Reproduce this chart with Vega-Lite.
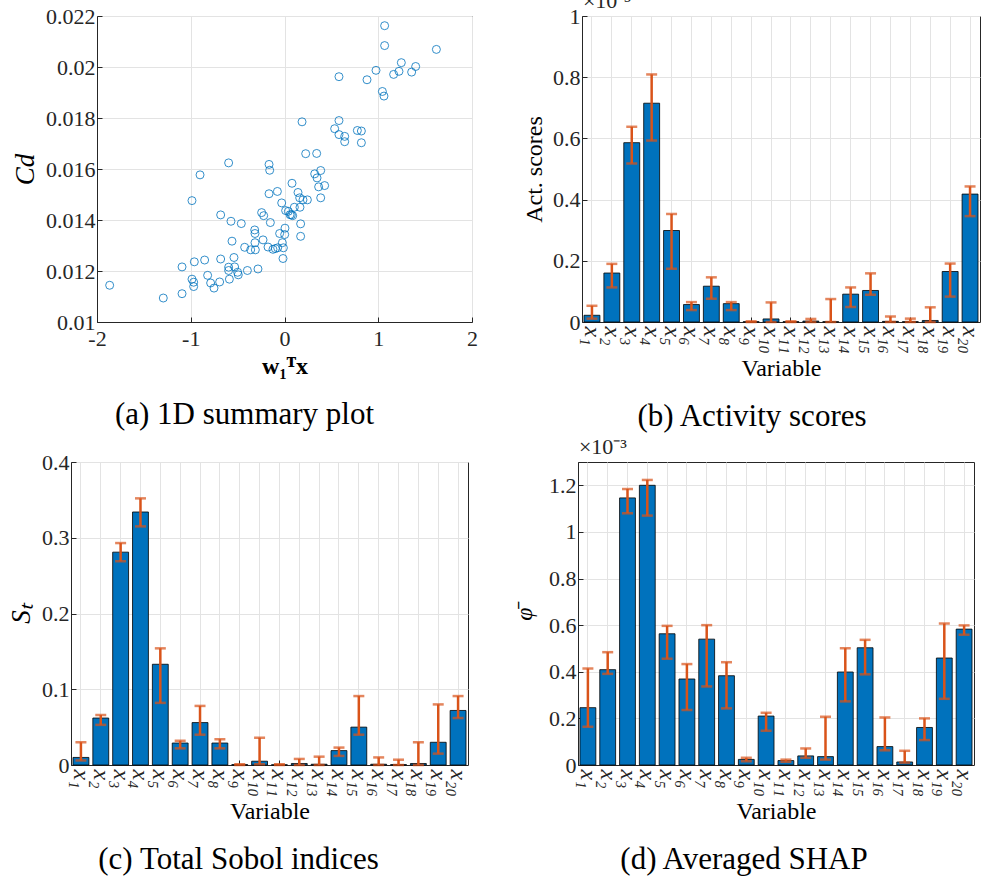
{
"$schema":"https://vega.github.io/schema/vega-lite/v6.json",
"background":"white",
"padding":{"left":7,"top":-11,"right":0,"bottom":0},
"config":{
 "font":"Liberation Serif",
 "view":{"stroke":"#262626","strokeWidth":1},
 "axis":{"labelFont":"Liberation Serif","labelFontSize":22,"labelColor":"#262626","titleFont":"Liberation Serif","titleFontSize":24,"titleFontWeight":"normal","titleColor":"#000000","gridColor":"#e3e3e3","gridWidth":1,"domainColor":"#262626","tickColor":"#262626","tickSize":-5,"labelPadding":7,"titlePadding":6,"labelFlush":false,"labelOverlap":false},
 "axisX":{"labelPadding":9,"titlePadding":3},
 "title":{"font":"Liberation Serif","fontSize":31,"fontWeight":"normal","color":"#000000","orient":"bottom","anchor":"middle","frame":"bounds","offset":22}
},
"datasets":{
 "scatter":[
  {"u":-1.865,"cd":0.01144},{"u":-1.293,"cd":0.01094},{"u":-1.093,"cd":0.01216},{"u":-1.093,"cd":0.01111},{"u":-0.987,"cd":0.01476},{"u":-0.901,"cd":0.01577},{"u":-0.987,"cd":0.01168},{"u":-0.969,"cd":0.01156},{"u":-0.969,"cd":0.01139},{"u":-0.962,"cd":0.01236},
  {"u":-0.852,"cd":0.01243},{"u":-0.820,"cd":0.01183},{"u":-0.788,"cd":0.01153},{"u":-0.752,"cd":0.01133},{"u":-0.692,"cd":0.01157},{"u":-0.681,"cd":0.01420},{"u":-0.681,"cd":0.01247},{"u":-0.596,"cd":0.01624},{"u":-0.596,"cd":0.01215},{"u":-0.596,"cd":0.01202},
  {"u":-0.588,"cd":0.01168},{"u":-0.571,"cd":0.01395},{"u":-0.560,"cd":0.01317},{"u":-0.539,"cd":0.01253},{"u":-0.532,"cd":0.01216},{"u":-0.500,"cd":0.01195},{"u":-0.493,"cd":0.01185},{"u":-0.461,"cd":0.01386},{"u":-0.425,"cd":0.01293},{"u":-0.396,"cd":0.01202},
  {"u":-0.361,"cd":0.01283},{"u":-0.318,"cd":0.01361},{"u":-0.315,"cd":0.01347},{"u":-0.315,"cd":0.01311},{"u":-0.311,"cd":0.01283},{"u":-0.283,"cd":0.01208},{"u":-0.244,"cd":0.01429},{"u":-0.222,"cd":0.01417},{"u":-0.229,"cd":0.01322},{"u":-0.176,"cd":0.01294},
  {"u":-0.165,"cd":0.01618},{"u":-0.158,"cd":0.01595},{"u":-0.165,"cd":0.01503},{"u":-0.151,"cd":0.01390},{"u":-0.123,"cd":0.01285},{"u":-0.098,"cd":0.01288},{"u":-0.076,"cd":0.01512},{"u":-0.073,"cd":0.01291},{"u":-0.052,"cd":0.01347},{"u":-0.030,"cd":0.01467},
  {"u":-0.023,"cd":0.01311},{"u":-0.012,"cd":0.01291},{"u":-0.016,"cd":0.01249},{"u":0.005,"cd":0.01368},{"u":0.002,"cd":0.01343},{"u":0.012,"cd":0.01437},{"u":0.041,"cd":0.01434},{"u":0.059,"cd":0.01421},{"u":0.073,"cd":0.01420},{"u":0.087,"cd":0.01417},
  {"u":0.080,"cd":0.01544},{"u":0.105,"cd":0.01450},{"u":0.144,"cd":0.01508},{"u":0.162,"cd":0.01487},{"u":0.172,"cd":0.01385},{"u":0.172,"cd":0.01336},{"u":0.165,"cd":0.01450},{"u":0.187,"cd":0.01785},{"u":0.197,"cd":0.01479},{"u":0.226,"cd":0.01660},
  {"u":0.244,"cd":0.01479},{"u":0.322,"cd":0.01581},{"u":0.343,"cd":0.01661},{"u":0.347,"cd":0.01565},{"u":0.364,"cd":0.01530},{"u":0.386,"cd":0.01594},{"u":0.386,"cd":0.01487},{"u":0.428,"cd":0.01535},{"u":0.535,"cd":0.01758},{"u":0.581,"cd":0.01962},
  {"u":0.581,"cd":0.01790},{"u":0.581,"cd":0.01735},{"u":0.642,"cd":0.01728},{"u":0.642,"cd":0.01707},{"u":0.777,"cd":0.01751},{"u":0.820,"cd":0.01749},{"u":0.820,"cd":0.01703},{"u":0.880,"cd":0.01950},{"u":0.976,"cd":0.01987},{"u":1.044,"cd":0.01904},
  {"u":1.061,"cd":0.01886},{"u":1.068,"cd":0.02162},{"u":1.068,"cd":0.02084},{"u":1.164,"cd":0.01971},{"u":1.221,"cd":0.01983},{"u":1.246,"cd":0.02017},{"u":1.356,"cd":0.01980},{"u":1.399,"cd":0.02002},{"u":1.620,"cd":0.02069}
 ],
 "act":[
  {"v":"x₁","m":0.022,"lo":0.011,"hi":0.053},{"v":"x₂","m":0.160,"lo":0.113,"hi":0.190},{"v":"x₃","m":0.586,"lo":0.518,"hi":0.638},{"v":"x₄","m":0.715,"lo":0.593,"hi":0.809},{"v":"x₅","m":0.299,"lo":0.174,"hi":0.353},
  {"v":"x₆","m":0.057,"lo":0.039,"hi":0.065},{"v":"x₇","m":0.117,"lo":0.076,"hi":0.146},{"v":"x₈","m":0.060,"lo":0.039,"hi":0.065},{"v":"x₉","m":0.001,"lo":0.0,"hi":0.002},{"v":"x₁₀","m":0.010,"lo":0.0,"hi":0.064},
  {"v":"x₁₁","m":0.001,"lo":0.0,"hi":0.002},{"v":"x₁₂","m":0.003,"lo":0.0,"hi":0.010},{"v":"x₁₃","m":0.001,"lo":0.0,"hi":0.075},{"v":"x₁₄","m":0.091,"lo":0.049,"hi":0.113},{"v":"x₁₅","m":0.103,"lo":0.089,"hi":0.159},
  {"v":"x₁₆","m":0.002,"lo":0.0,"hi":0.018},{"v":"x₁₇","m":0.001,"lo":0.0,"hi":0.011},{"v":"x₁₈","m":0.005,"lo":0.0,"hi":0.048},{"v":"x₁₉","m":0.165,"lo":0.083,"hi":0.191},{"v":"x₂₀","m":0.418,"lo":0.346,"hi":0.443}
 ],
 "sobol":[
  {"v":"x₁","m":0.010,"lo":0.006,"hi":0.030},{"v":"x₂","m":0.062,"lo":0.053,"hi":0.066},{"v":"x₃","m":0.281,"lo":0.269,"hi":0.293},{"v":"x₄","m":0.334,"lo":0.315,"hi":0.352},{"v":"x₅","m":0.133,"lo":0.082,"hi":0.154},
  {"v":"x₆","m":0.029,"lo":0.022,"hi":0.032},{"v":"x₇","m":0.056,"lo":0.040,"hi":0.078},{"v":"x₈","m":0.029,"lo":0.022,"hi":0.034},{"v":"x₉","m":0.0005,"lo":0.0,"hi":0.001},{"v":"x₁₀","m":0.005,"lo":0.001,"hi":0.036},
  {"v":"x₁₁","m":0.0003,"lo":0.0,"hi":0.001},{"v":"x₁₂","m":0.002,"lo":0.0,"hi":0.008},{"v":"x₁₃","m":0.001,"lo":0.0,"hi":0.011},{"v":"x₁₄","m":0.019,"lo":0.012,"hi":0.023},{"v":"x₁₅","m":0.050,"lo":0.040,"hi":0.091},
  {"v":"x₁₆","m":0.001,"lo":0.0,"hi":0.010},{"v":"x₁₇","m":0.0005,"lo":0.0,"hi":0.007},{"v":"x₁₈","m":0.002,"lo":0.0,"hi":0.030},{"v":"x₁₉","m":0.030,"lo":0.015,"hi":0.080},{"v":"x₂₀","m":0.072,"lo":0.062,"hi":0.091}
 ],
 "shap":[
  {"v":"x₁","m":0.246,"lo":0.164,"hi":0.414},{"v":"x₂","m":0.409,"lo":0.391,"hi":0.484},{"v":"x₃","m":1.146,"lo":1.080,"hi":1.184},{"v":"x₄","m":1.200,"lo":1.070,"hi":1.223},{"v":"x₅","m":0.563,"lo":0.456,"hi":0.597},
  {"v":"x₆","m":0.369,"lo":0.236,"hi":0.433},{"v":"x₇","m":0.540,"lo":0.337,"hi":0.600},{"v":"x₈","m":0.383,"lo":0.243,"hi":0.441},{"v":"x₉","m":0.024,"lo":0.016,"hi":0.031},{"v":"x₁₀","m":0.210,"lo":0.147,"hi":0.224},
  {"v":"x₁₁","m":0.019,"lo":0.014,"hi":0.023},{"v":"x₁₂","m":0.039,"lo":0.031,"hi":0.071},{"v":"x₁₃","m":0.036,"lo":0.023,"hi":0.207},{"v":"x₁₄","m":0.399,"lo":0.273,"hi":0.501},{"v":"x₁₅","m":0.503,"lo":0.389,"hi":0.537},
  {"v":"x₁₆","m":0.079,"lo":0.063,"hi":0.204},{"v":"x₁₇","m":0.013,"lo":0.010,"hi":0.061},{"v":"x₁₈","m":0.161,"lo":0.107,"hi":0.200},{"v":"x₁₉","m":0.459,"lo":0.284,"hi":0.607},{"v":"x₂₀","m":0.583,"lo":0.559,"hi":0.599}
 ],
 "expo":[{"t":"×10⁻³"}],
 "none":[]
},
"spacing":2,
"vconcat":[
 {"hconcat":[
  {"bounds":"flush","spacing":25,"hconcat":[
    {"width":1,"height":1,"view":{"stroke":null},"data":{"name":"none"},"mark":{"type":"point","opacity":0},"encoding":{}},
    {"width":375,"height":306,
     "title":{"text":"(a) 1D summary plot"},
     "data":{"name":"scatter"},
     "mark":{"type":"point","shape":"circle","filled":false,"stroke":"#0072BD","strokeWidth":0.8,"size":64,"opacity":1},
     "encoding":{
      "x":{"field":"u","type":"quantitative","title":"w₁ᵀx","scale":{"domain":[-2,2],"nice":false,"zero":false},"axis":{"values":[-2,-1,0,1,2],"labelExpr":"'' + datum.value","labelPadding":11,"titleFontWeight":"bold","titlePadding":5,"grid":true}},
      "y":{"field":"cd","type":"quantitative","title":"Cd","scale":{"domain":[0.01,0.022],"nice":false,"zero":false},"axis":{"values":[0.01,0.012,0.014,0.016,0.018,0.02,0.022],"format":"~g","titleFontStyle":"italic","titleFontSize":27,"grid":true}}
     }
    }
  ]},
  {"width":398,"height":306,
   "title":{"text":"(b) Activity scores"},
   "layer":[
    {"data":{"name":"act"},
     "mark":{"type":"bar","color":"#0072BD","stroke":"#000000","strokeWidth":0.8},
     "encoding":{
      "x":{"field":"v","type":"nominal","sort":null,"scale":{"paddingInner":0.2,"paddingOuter":0.1},"axis":{"labelAngle":90,"labelFontStyle":"italic","labelFontSize":24,"title":"Variable","grid":true}},
      "y":{"field":"m","type":"quantitative","title":"Act. scores","scale":{"domain":[0,1],"nice":false},"axis":{"values":[0,0.2,0.4,0.6,0.8,1],"format":"~g","grid":true}}
     }},
    {"data":{"name":"act"},
     "mark":{"type":"errorbar","color":"#D95319","thickness":2.5,"ticks":{"size":11,"thickness":2.5}},
     "encoding":{
      "x":{"field":"v","type":"nominal","sort":null,"title":"Variable"},
      "y":{"field":"lo","type":"quantitative","title":"Act. scores"},
      "y2":{"field":"hi"}
     }},
    {"data":{"name":"expo"},
     "mark":{"type":"text","font":"Liberation Serif","fontSize":22,"align":"left","baseline":"bottom","dx":-9,"dy":-3,"color":"#262626"},
     "encoding":{"x":{"datum":"x₁"},"y":{"datum":1},"text":{"field":"t"}}}
   ]
  }
 ],"spacing":44},
 {"hconcat":[
  {"width":397,"height":303,
   "title":{"text":"(c) Total Sobol indices"},
   "layer":[
    {"data":{"name":"sobol"},
     "mark":{"type":"bar","color":"#0072BD","stroke":"#000000","strokeWidth":0.8},
     "encoding":{
      "x":{"field":"v","type":"nominal","sort":null,"scale":{"paddingInner":0.2,"paddingOuter":0.1},"axis":{"labelAngle":90,"labelFontStyle":"italic","labelFontSize":24,"title":"Variable","grid":true}},
      "y":{"field":"m","type":"quantitative","title":"Sₜ","scale":{"domain":[0,0.4],"nice":false},"axis":{"values":[0,0.1,0.2,0.3,0.4],"format":"~g","titleFontStyle":"italic","titleFontSize":27,"grid":true}}
     }},
    {"data":{"name":"sobol"},
     "mark":{"type":"errorbar","color":"#D95319","thickness":2.5,"ticks":{"size":11,"thickness":2.5}},
     "encoding":{
      "x":{"field":"v","type":"nominal","sort":null,"title":"Variable"},
      "y":{"field":"lo","type":"quantitative","title":"Sₜ"},
      "y2":{"field":"hi"}
     }}
   ]
  },
  {"width":396,"height":303,
   "title":{"text":"(d) Averaged SHAP"},
   "layer":[
    {"data":{"name":"shap"},
     "mark":{"type":"bar","color":"#0072BD","stroke":"#000000","strokeWidth":0.8},
     "encoding":{
      "x":{"field":"v","type":"nominal","sort":null,"scale":{"paddingInner":0.2,"paddingOuter":0.1},"axis":{"labelAngle":90,"labelFontStyle":"italic","labelFontSize":24,"title":"Variable","grid":true}},
      "y":{"field":"m","type":"quantitative","title":"φ̄","scale":{"domain":[0,1.3],"nice":false},"axis":{"values":[0,0.2,0.4,0.6,0.8,1,1.2],"format":"~g","titleFontStyle":"italic","titlePadding":12,"grid":true}}
     }},
    {"data":{"name":"shap"},
     "mark":{"type":"errorbar","color":"#D95319","thickness":2.5,"ticks":{"size":11,"thickness":2.5}},
     "encoding":{
      "x":{"field":"v","type":"nominal","sort":null,"title":"Variable"},
      "y":{"field":"lo","type":"quantitative","title":"φ̄"},
      "y2":{"field":"hi"}
     }},
    {"data":{"name":"expo"},
     "mark":{"type":"text","font":"Liberation Serif","fontSize":22,"align":"left","baseline":"bottom","dx":-9,"dy":-3,"color":"#262626"},
     "encoding":{"x":{"datum":"x₁"},"y":{"datum":1.3},"text":{"field":"t"}}}
   ]
  }
 ],"spacing":41}
]
}
